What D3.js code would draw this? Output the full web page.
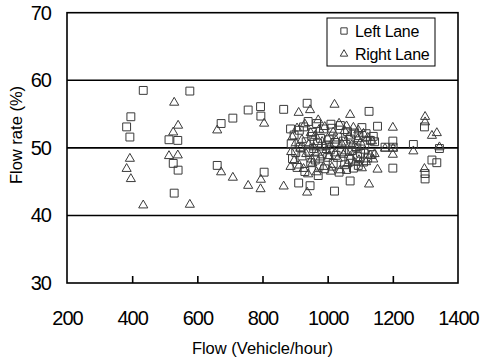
<!DOCTYPE html>
<html>
<head>
<meta charset="utf-8">
<script src="https://cdn.jsdelivr.net/npm/d3@7"></script>
<style>
  body { margin: 0; background: #fff; }
  text { font-family: Arial, "Liberation Sans", sans-serif; fill: #000; }
</style>
</head>
<body>
<div id="chart"></div>
<script>
// flow (vehicle/hour) for each observation, with the share of each lane
let flow = [383, 393, 396, 434, 513, 526, 529, 540, 541, 577,
    661, 673, 709, 756, 794, 795, 805, 865, 886, 888,
    892, 897, 902, 906, 911, 913, 916, 921, 926, 930,
    934, 937, 940, 942, 946, 948, 951, 953, 957, 962,
    966, 969, 971, 974, 978, 983, 987, 991, 996, 1000,
    1004, 1008, 1010, 1013, 1017, 1021, 1022, 1026, 1031, 1035,
    1039, 1043, 1048, 1052, 1056, 1058, 1061, 1065, 1069, 1070,
    1074, 1079, 1083, 1087, 1092, 1094, 1096, 1101, 1105, 1110,
    1114, 1118, 1123, 1127, 1131, 1136, 1140, 1144, 1153, 1176,
    1200, 1200, 1201, 1263, 1297, 1299, 1299, 1320, 1335, 1343];

let leftLane = [53.1, 51.6, 54.6, 58.5, 51.2, 47.7, 43.3, 51.1, 46.7, 58.4,
    47.4, 53.6, 54.4, 55.6, 56.1, 54.7, 46.4, 55.7, 52.8, 50.6,
    48.4, 51.9, 49.3, 47.1, 44.8, 52.6, 50.1, 48.8, 53.1, 46.5,
    50.9, 56.6, 53.9, 49.5, 44.4, 47.8, 51.7, 52.3, 49.9, 48.2,
    53.6, 50.7, 45.9, 47.3, 51.4, 49.1, 52.8, 46.9, 50.3, 48.6,
    51.2, 49.7, 53.5, 52.9, 47.7, 43.6, 50.8, 48.9, 51.6, 46.4,
    53.3, 49.4, 51.0, 47.5, 50.5, 46.8, 52.4, 48.3, 45.1, 51.3,
    49.6, 47.0, 52.2, 50.0, 48.7, 47.4, 51.8, 49.2, 53.0, 47.9,
    50.4, 52.1, 48.5, 55.4, 51.1, 49.0, 51.7, 50.9, 53.2, 50.1,
    51.0, 47.0, 50.1, 50.5, 53.1, 46.2, 45.4, 48.2, 47.8, 49.9];

let rightLane = [46.9, 48.4, 45.4, 41.5, 48.8, 52.3, 56.7, 48.9, 53.3, 41.6,
    52.6, 46.4, 45.6, 44.4, 43.9, 45.3, 53.6, 44.3, 47.2, 49.4,
    51.6, 48.1, 50.7, 52.9, 55.2, 47.4, 49.9, 51.2, 46.9, 53.5,
    49.1, 43.4, 46.1, 50.5, 55.6, 52.2, 48.3, 47.7, 50.1, 51.8,
    46.4, 49.3, 54.1, 52.7, 48.6, 50.9, 47.2, 53.1, 49.7, 51.4,
    48.8, 50.3, 46.5, 47.1, 52.3, 56.4, 49.2, 51.1, 48.4, 53.6,
    46.7, 50.6, 49.0, 52.5, 49.5, 53.2, 47.6, 51.7, 54.9, 48.7,
    50.4, 53.0, 47.8, 50.0, 51.3, 52.6, 48.2, 50.8, 47.0, 52.1,
    49.6, 47.9, 51.5, 44.6, 48.9, 51.0, 48.3, 49.1, 46.8, 49.9,
    49.0, 53.0, 49.9, 49.5, 46.9, 53.8, 54.6, 51.8, 52.2, 50.1];

let xTicks = [200, 400, 600, 800, 1000, 1200, 1400];
let yTicks = [30, 40, 50, 60, 70];
let gridValues = [40, 50, 60];

let svg = d3.select("#chart")
    .append("svg")
    .attr("width", 480)
    .attr("height", 362);

let x = d3.scaleLinear().domain([200, 1400]).range([67, 458]);
let y = d3.scaleLinear().domain([30, 70]).range([283, 12.7]);

let leftPts = flow.map(function(f, i) { return {x: f, y: leftLane[i]}; });
let rightPts = flow.map(function(f, i) { return {x: f, y: rightLane[i]}; });

// horizontal grid lines
svg.selectAll(".grid")
    .data(gridValues)
    .enter()
    .append("line")
    .attr("x1", x(200))
    .attr("x2", x(1400))
    .attr("y1", function(d) { return y(d); })
    .attr("y2", function(d) { return y(d); })
    .attr("stroke", "#000")
    .attr("stroke-width", 1.6);

// frame
svg.append("rect")
    .attr("x", x(200))
    .attr("y", y(70))
    .attr("width", x(1400) - x(200))
    .attr("height", y(30) - y(70))
    .attr("fill", "none")
    .attr("stroke", "#000")
    .attr("stroke-width", 1.6);

let square = d3.symbol().type(d3.symbolSquare).size(62);
let triangle = d3.symbol().type(d3.symbolTriangle).size(36);

svg.append("g")
    .selectAll("path")
    .data(leftPts)
    .enter()
    .append("path")
    .attr("d", square)
    .attr("transform", function(d) { return "translate(" + x(d.x) + "," + y(d.y) + ")"; })
    .attr("fill", "none")
    .attr("stroke", "#3a3a3a")
    .attr("stroke-width", 1);

svg.append("g")
    .selectAll("path")
    .data(rightPts)
    .enter()
    .append("path")
    .attr("d", triangle)
    .attr("transform", function(d) { return "translate(" + x(d.x) + "," + y(d.y) + ")"; })
    .attr("fill", "none")
    .attr("stroke", "#3a3a3a")
    .attr("stroke-width", 1);

// x axis: inward ticks, labels well below
let xAxis = d3.axisBottom(x)
    .tickValues(xTicks)
    .tickSizeInner(-7)
    .tickSizeOuter(0)
    .tickPadding(28)
    .tickFormat(d3.format("d"));

let gx = svg.append("g")
    .attr("transform", "translate(0," + y(30) + ")")
    .call(xAxis);
gx.select(".domain").remove();
gx.selectAll("line")
    .attr("stroke-width", 1.6)
    .filter(function(d) { return d === 200 || d === 1400; })
    .remove();
gx.selectAll("text")
    .style("font-size", "20px")
    .style("letter-spacing", "-1px")
    .attr("font-family", null);

let yAxis = d3.axisLeft(y)
    .tickValues(yTicks)
    .tickSize(0)
    .tickPadding(16)
    .tickFormat(d3.format("d"));

let gy = svg.append("g")
    .attr("transform", "translate(" + x(200) + ",0)")
    .call(yAxis);
gy.select(".domain").remove();
gy.selectAll("text")
    .style("font-size", "20px")
    .style("letter-spacing", "-1px")
    .attr("font-family", null);

svg.append("text")
    .attr("x", (x(200) + x(1400)) / 2)
    .attr("y", 354)
    .attr("text-anchor", "middle")
    .style("font-size", "16.5px")
    .text("Flow (Vehicle/hour)");

svg.append("text")
    .attr("transform", "translate(22,135) rotate(-90)")
    .attr("text-anchor", "middle")
    .style("font-size", "16.5px")
    .text("Flow rate (%)");

// legend
let legend = svg.append("g");
legend.append("rect")
    .attr("x", 327)
    .attr("y", 18)
    .attr("width", 108)
    .attr("height", 48)
    .attr("fill", "#fff")
    .attr("stroke", "#000")
    .attr("stroke-width", 1);

let legendItems = [
    {label: "Left Lane", sym: d3.symbol().type(d3.symbolSquare).size(40)},
    {label: "Right Lane", sym: d3.symbol().type(d3.symbolTriangle).size(24)}
];

legendItems.forEach(function(it, i) {
    let cy = 31 + i * 23;
    legend.append("path")
        .attr("d", it.sym)
        .attr("transform", "translate(344," + cy + ")")
        .attr("fill", "none")
        .attr("stroke", "#3a3a3a")
        .attr("stroke-width", 1);
    legend.append("text")
        .attr("x", 355)
        .attr("y", cy + 6)
        .style("font-size", "16px")
        .style("letter-spacing", "-0.3px")
        .text(it.label);
});
</script>
</body>
</html>
